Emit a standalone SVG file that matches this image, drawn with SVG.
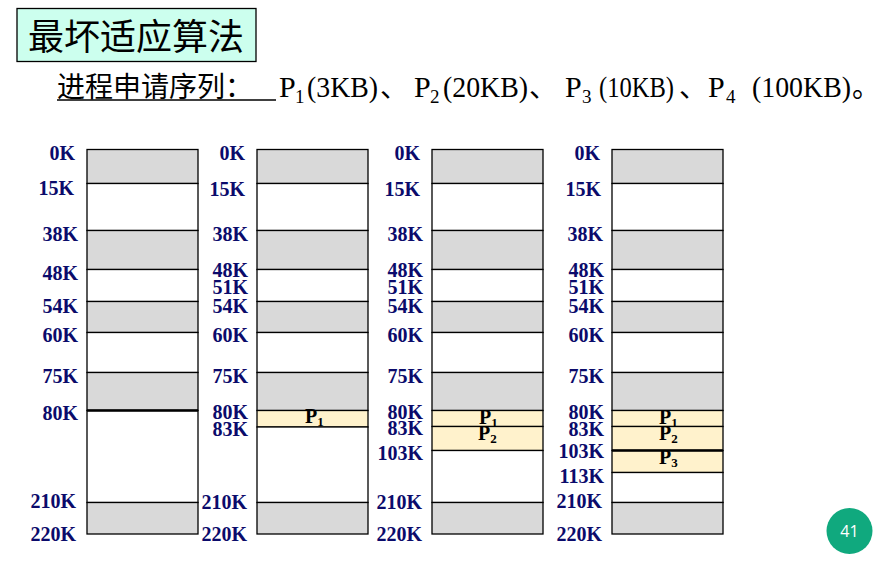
<svg xmlns="http://www.w3.org/2000/svg" width="892" height="561" viewBox="0 0 892 561">
<style>
.g{fill:#d9d9d9;stroke:#000;stroke-width:1.3}
.w{fill:#fff;stroke:#000;stroke-width:1.3}
.y{fill:#fff2cc;stroke:#000;stroke-width:1.3}
.thk{stroke:#000;stroke-width:2.6}
.lb{font-family:"Liberation Serif","Times New Roman",serif;font-weight:bold;font-size:20px;fill:#0b0b6b;text-anchor:end}
.pl{font-family:"Liberation Serif","Times New Roman",serif;font-weight:bold;font-size:20px;fill:#000}
.ps{font-size:13px}
.cj{font-family:"Noto Sans CJK SC",sans-serif;fill:#000}
.lt{font-family:"Liberation Serif","Times New Roman",serif;font-size:30px;fill:#000}
.sb{font-family:"Liberation Serif","Times New Roman",serif;font-size:19px;fill:#000}
</style>
<rect width="892" height="561" fill="#fff"/>
<g id="title">
<rect x="17" y="8.5" width="239" height="53" fill="#ccffee" stroke="#000" stroke-width="1.3"/>
<text class="cj" x="28" y="50" font-size="36">最坏适应算法</text>
</g>
<g id="subtitle">
<text class="cj" x="57" y="97" font-size="28">进程申请序列：</text>
<line x1="57" y1="100" x2="276" y2="100" stroke="#000" stroke-width="1.5"/>
<text class="lt" x="279" y="97">P</text>
<text class="sb" x="295" y="103">1</text>
<text class="lt" x="307" y="97" textLength="71" lengthAdjust="spacingAndGlyphs">(3KB)</text>
<text class="cj" x="380" y="97" font-size="28">、</text>
<text class="lt" x="414" y="97">P</text>
<text class="sb" x="430" y="103">2</text>
<text class="lt" x="443" y="97" textLength="85" lengthAdjust="spacingAndGlyphs">(20KB)</text>
<text class="cj" x="529" y="97" font-size="28">、</text>
<text class="lt" x="565" y="97">P</text>
<text class="sb" x="582" y="103">3</text>
<text class="lt" x="599" y="97" textLength="75" lengthAdjust="spacingAndGlyphs">(10KB)</text>
<text class="cj" x="679" y="97" font-size="28">、</text>
<text class="lt" x="708" y="97">P</text>
<text class="sb" x="726" y="103">4</text>
<text class="lt" x="752" y="97" textLength="99" lengthAdjust="spacingAndGlyphs">(100KB)</text>
<text class="cj" x="852" y="97" font-size="28">。</text>
</g>
<g id="memory1">
<rect class="g" x="87" y="149.5" width="111" height="34"/>
<rect class="w" x="87" y="183.5" width="111" height="47"/>
<rect class="g" x="87" y="230.5" width="111" height="39"/>
<rect class="w" x="87" y="269.5" width="111" height="32"/>
<rect class="g" x="87" y="301.5" width="111" height="31"/>
<rect class="w" x="87" y="332.5" width="111" height="40"/>
<rect class="g" x="87" y="372.5" width="111" height="38"/>
<rect class="w" x="87" y="410.5" width="111" height="92"/>
<rect class="g" x="87" y="502.5" width="111" height="31.5"/>
<line class="thk" x1="87" y1="410.5" x2="198" y2="410.5"/>
<text class="lb" x="75" y="160">0K</text>
<text class="lb" x="74" y="195">15K</text>
<text class="lb" x="78" y="241">38K</text>
<text class="lb" x="78" y="280">48K</text>
<text class="lb" x="78" y="313">54K</text>
<text class="lb" x="78" y="342">60K</text>
<text class="lb" x="78" y="383">75K</text>
<text class="lb" x="78" y="420">80K</text>
<text class="lb" x="76" y="508">210K</text>
<text class="lb" x="76" y="541">220K</text>
</g>
<g id="memory2">
<rect class="g" x="257" y="149.5" width="111" height="34"/>
<rect class="w" x="257" y="183.5" width="111" height="47"/>
<rect class="g" x="257" y="230.5" width="111" height="39"/>
<rect class="w" x="257" y="269.5" width="111" height="32"/>
<rect class="g" x="257" y="301.5" width="111" height="31"/>
<rect class="w" x="257" y="332.5" width="111" height="40"/>
<rect class="g" x="257" y="372.5" width="111" height="38"/>
<rect class="y" x="257" y="410.5" width="111" height="16.5"/>
<rect class="w" x="257" y="427" width="111" height="75.5"/>
<rect class="g" x="257" y="502.5" width="111" height="31.5"/>
<text class="pl" x="305" y="423">P<tspan class="ps" dy="3">1</tspan></text>
<text class="lb" x="245" y="160">0K</text>
<text class="lb" x="245" y="196">15K</text>
<text class="lb" x="248" y="241">38K</text>
<text class="lb" x="248" y="277">48K</text>
<text class="lb" x="248" y="294">51K</text>
<text class="lb" x="248" y="313">54K</text>
<text class="lb" x="248" y="342">60K</text>
<text class="lb" x="248" y="383">75K</text>
<text class="lb" x="248" y="419">80K</text>
<text class="lb" x="248" y="436">83K</text>
<text class="lb" x="247" y="509">210K</text>
<text class="lb" x="247" y="541">220K</text>
</g>
<g id="memory3">
<rect class="g" x="432" y="149.5" width="111" height="34"/>
<rect class="w" x="432" y="183.5" width="111" height="47"/>
<rect class="g" x="432" y="230.5" width="111" height="39"/>
<rect class="w" x="432" y="269.5" width="111" height="32"/>
<rect class="g" x="432" y="301.5" width="111" height="31"/>
<rect class="w" x="432" y="332.5" width="111" height="40"/>
<rect class="g" x="432" y="372.5" width="111" height="38"/>
<rect class="y" x="432" y="410.5" width="111" height="16"/>
<rect class="y" x="432" y="426.5" width="111" height="24"/>
<rect class="w" x="432" y="450.5" width="111" height="52"/>
<rect class="g" x="432" y="502.5" width="111" height="31.5"/>
<text class="pl" x="479" y="424">P<tspan class="ps" dy="3">1</tspan></text>
<text class="pl" x="478" y="440">P<tspan class="ps" dy="3">2</tspan></text>
<text class="lb" x="420" y="160">0K</text>
<text class="lb" x="420" y="196">15K</text>
<text class="lb" x="423" y="241">38K</text>
<text class="lb" x="423" y="277">48K</text>
<text class="lb" x="423" y="294">51K</text>
<text class="lb" x="423" y="313">54K</text>
<text class="lb" x="423" y="342">60K</text>
<text class="lb" x="423" y="383">75K</text>
<text class="lb" x="423" y="419">80K</text>
<text class="lb" x="423" y="435">83K</text>
<text class="lb" x="423" y="460">103K</text>
<text class="lb" x="422" y="509">210K</text>
<text class="lb" x="422" y="541">220K</text>
</g>
<g id="memory4">
<rect class="g" x="612" y="149.5" width="111" height="34"/>
<rect class="w" x="612" y="183.5" width="111" height="47"/>
<rect class="g" x="612" y="230.5" width="111" height="39"/>
<rect class="w" x="612" y="269.5" width="111" height="32"/>
<rect class="g" x="612" y="301.5" width="111" height="31"/>
<rect class="w" x="612" y="332.5" width="111" height="40"/>
<rect class="g" x="612" y="372.5" width="111" height="38"/>
<rect class="y" x="612" y="410.5" width="111" height="16"/>
<rect class="y" x="612" y="426.5" width="111" height="24"/>
<rect class="y" x="612" y="450.5" width="111" height="22"/>
<rect class="w" x="612" y="472.5" width="111" height="30"/>
<rect class="g" x="612" y="502.5" width="111" height="31.5"/>
<line class="thk" x1="612" y1="450.5" x2="723" y2="450.5"/>
<text class="pl" x="659" y="424">P<tspan class="ps" dy="3">1</tspan></text>
<text class="pl" x="659" y="440">P<tspan class="ps" dy="3">2</tspan></text>
<text class="pl" x="659" y="464">P<tspan class="ps" dy="3">3</tspan></text>
<text class="lb" x="600" y="160">0K</text>
<text class="lb" x="601" y="196">15K</text>
<text class="lb" x="603" y="241">38K</text>
<text class="lb" x="604" y="277">48K</text>
<text class="lb" x="604" y="294">51K</text>
<text class="lb" x="604" y="313">54K</text>
<text class="lb" x="604" y="342">60K</text>
<text class="lb" x="604" y="383">75K</text>
<text class="lb" x="604" y="419">80K</text>
<text class="lb" x="604" y="436">83K</text>
<text class="lb" x="604" y="458">103K</text>
<text class="lb" x="604" y="483">113K</text>
<text class="lb" x="602" y="508">210K</text>
<text class="lb" x="602" y="541">220K</text>
</g>
<g id="connectors"></g>
<g id="page-number">
<circle cx="849.5" cy="531" r="23" fill="#10a97e"/>
<text x="849.5" y="537" font-family="'Open Sans','Noto Sans',sans-serif" font-size="16" fill="#fff" text-anchor="middle">41</text>
</g>
</svg>
